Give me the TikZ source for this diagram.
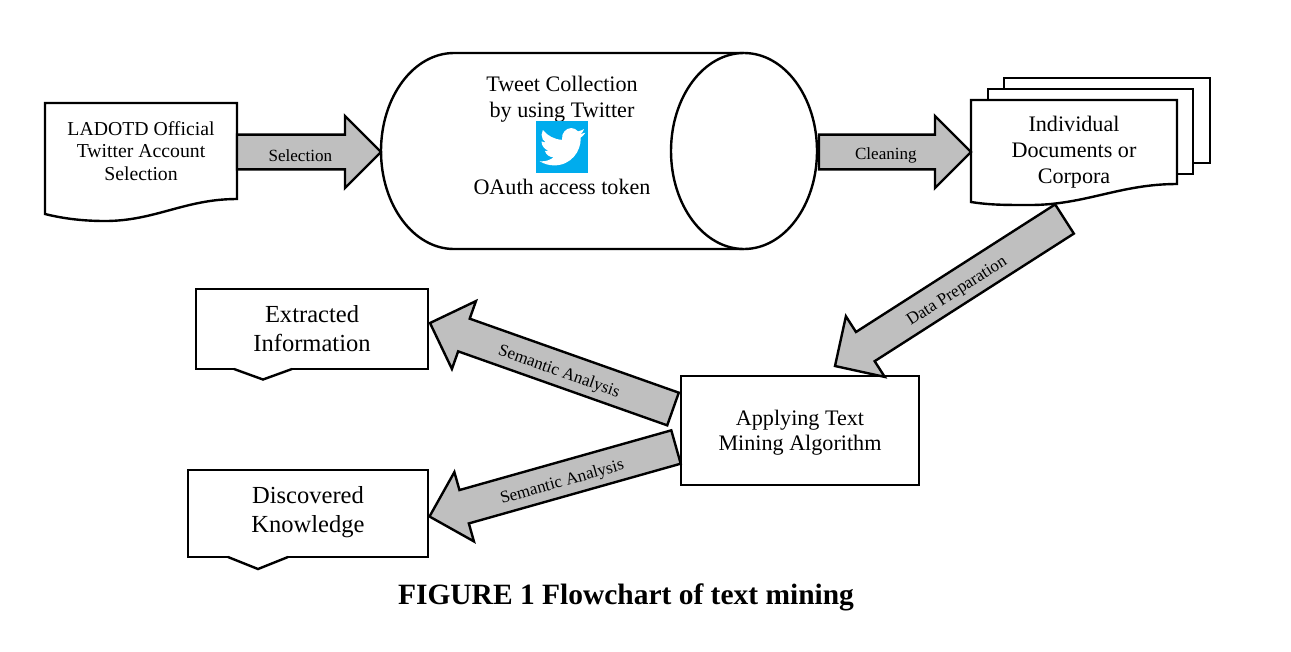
\documentclass[tikz,border=0pt]{standalone}
\usepackage{fontspec}
\setmainfont{Liberation Serif}
\usetikzlibrary{calc,backgrounds}
\definecolor{twitterblue}{HTML}{00ACED}

\tikzset{
    plainbox/.style={rectangle, draw=black, line width=1.8pt, fill=white, inner sep=0pt, outer sep=0pt, align=center},
    docbox/.style={rectangle, inner sep=0pt, outer sep=0pt, align=center, text depth=1.8pt},
    docline/.style={draw=black, line width=1.8pt, fill=white},
    blockline/.style={draw=black, line width=1.8pt, fill=black!25, line join=miter},
    linklabel/.style={font=\fontsize{12.8}{15}\selectfont, inner sep=0pt, yshift=-2.5pt},
    smalltext/.style={font=\fontsize{14.8}{16.9}\selectfont},
    midtext/.style={font=\fontsize{16.6}{19.2}\selectfont},
    bigtext/.style={font=\fontsize{18.4}{21.75}\selectfont}
}

% block arrow between two named points, label on top of it
\newcommand{\blockarrow}[4][.465]{
    \coordinate (headbase) at ($(#3)!27pt!(#2)$);
    \draw[blockline] ($(#2)!13pt!-90:(#3)$) -- ($(headbase)!13pt!-90:(#3)$) -- ($(headbase)!27pt!-90:(#3)$) -- (#3)
        -- ($(headbase)!27pt!90:(#3)$) -- ($(headbase)!13pt!90:(#3)$) -- ($(#2)!13pt!90:(#3)$) -- cycle;
    \path (#2) -- node[pos=#1, sloped, linklabel] {#4} (#3);
}

\begin{document}
\begin{tikzpicture}[x=0.75pt, y=-0.75pt]
    \useasboundingbox (0,0) rectangle (1291,651);

    \node (ladotd) [docbox, smalltext, minimum width=144pt, minimum height=72pt, text depth=0pt] at (141,151)
        {LADOTD Official\\Twitter Account\\Selection};

    \node (tweet) [docbox, minimum width=327pt, minimum height=147pt] at (599,151) {};
    \node (tweettext) [midtext, align=center, inner sep=0pt] at (562,99) {Tweet Collection\\by using Twitter};
    \node (twittericon) [rectangle, fill=twitterblue, inner sep=0pt, minimum size=39pt] at (562,147) {};
    \node (oauth) [midtext, inner sep=0pt] at (562,187) {OAuth access token};

    \node (individual) [docbox, midtext, minimum width=154.5pt, minimum height=76.5pt] at (1074,151)
        {Individual\\Documents or\\Corpora};

    \node (extracted) [plainbox, bigtext, minimum width=174pt, minimum height=60pt] at (312,329)
        {Extracted\\Information};
    \node (discovered) [plainbox, bigtext, minimum width=180pt, minimum height=65.25pt, text depth=6.5pt] at (308,513.5)
        {Discovered\\Knowledge};
    \node (applying) [plainbox, midtext, minimum width=178.5pt, minimum height=81.75pt, text depth=0pt] at (800,430.5)
        {Applying Text\\Mining Algorithm};

    \node (caption) [font=\fontsize{22.1}{26}\selectfont\bfseries, inner sep=0pt] at (626,597.5) {FIGURE 1 Flowchart of text mining};

    \begin{scope}[on background layer]
        % the drum: body first, then its front face
        \draw[docline] ($(tweet.north west)+(73,0)$) arc[start angle=90, end angle=270, x radius=54.75pt, y radius=73.5pt]
            -- ($(tweet.south east)+(-73,0)$) arc[start angle=-90, end angle=90, x radius=54.75pt, y radius=73.5pt] -- cycle;
        \draw[docline] ($(tweet.south east)+(-73,0)$) arc[start angle=270, end angle=90, x radius=54.75pt, y radius=73.5pt];
        % sheets behind the front document
        \node (sheetthree) [plainbox, minimum width=154.5pt, minimum height=63.75pt] at (1107,120.5) {};
        \node (sheettwo) [plainbox, minimum width=154pt, minimum height=63.75pt] at (1090.5,131.5) {};
        \draw[docline] (individual.north west) -- (individual.north east) -- (1177,184)
            .. controls (1120,184) and (1085,205) .. (1030,205) .. controls (1005,205) and (990,205) .. (individual.south west) -- cycle;
        \draw[docline] (ladotd.north west) -- (ladotd.north east) -- (ladotd.south east)
            .. controls (185,199) and (155,221) .. (105,221) .. controls (85,221) and (65,219) .. (45,214) -- cycle;
    \end{scope}

    % notches under the two result boxes, open at the top
    \fill[white] (235,366.5) rectangle (291,371);
    \draw[docline] (234,369) -- (263,379.5) -- (292,369);
    \fill[white] (229,554.5) rectangle (287,559);
    \draw[docline] (228,557) -- (258,569) -- (288,557);

    % the bird, in its own little grid
    \begin{scope}[shift={([xshift=3pt,yshift=-2.5pt]twittericon.north west)}, x=1.425pt, y=-1.425pt]
        \fill[white] (23.95,4.57) .. controls (22.6,5.1) .. (21.13,5.35) .. controls (22.4,4.6) .. (23.29,2.62)
            .. controls (22.3,3.2) .. (20.17,3.81) .. controls (19.2,2.75) and (17.9,2.1) .. (16.6,2.1)
            .. controls (13.9,2.1) and (11.2,4.7) .. (11.78,8.29) .. controls (7.69,8.1) and (4.07,6.13) .. (1.64,3.16)
            .. controls (1.2,3.9) .. (0.97,5.64) .. controls (0.97,7.35) and (1.84,8.85) .. (3.16,9.73)
            .. controls (2.35,9.7) .. (0.93,9.12) -- (0.93,9.18) .. controls (0.93,11.5) and (2.6,13.5) .. (4.88,14)
            .. controls (4.15,14.2) .. (2.67,14.09) .. controls (3.3,16) and (5.1,17.45) .. (7.27,17.51)
            .. controls (5.6,18.8) and (3.5,19.61) .. (1.17,19.61) -- (0,19.54)
            .. controls (2.2,20.95) and (4.8,21.75) .. (7.56,21.75) .. controls (16.61,21.75) and (21.56,14.26) .. (21.56,7.77)
            -- (21.54,7.14) .. controls (22.5,6.45) .. (24,4.59) -- cycle;
    \end{scope}

    \coordinate (selectstart) at ($(ladotd.east)+(0,1)$);
    \coordinate (selecttip) at ($(tweet.west)+(0,1)$);
    \coordinate (cleanstart) at ($(tweet.east)+(2,1)$);
    \coordinate (cleantip) at ($(individual.west)+(0,1)$);
    \coordinate (prepstart) at ($(individual.south)+(-9.5,17)$);
    \coordinate (preptip) at ($(applying.north west)+(154,-10)$);
    \coordinate (upperstart) at ($(applying.west)+(-8,-21.5)$);
    \coordinate (uppertip) at ($(extracted.east)+(2,-6)$);
    \coordinate (lowerstart) at ($(applying.west)+(-5,16.5)$);
    \coordinate (lowertip) at ($(discovered.east)+(1.5,3)$);

    \blockarrow[.44]{selectstart}{selecttip}{Selection}
    \blockarrow[.44]{cleanstart}{cleantip}{Cleaning}
    \blockarrow[.475]{prepstart}{preptip}{Data Preparation}
    \blockarrow{upperstart}{uppertip}{Semantic Analysis}
    \blockarrow{lowerstart}{lowertip}{Semantic Analysis}
\end{tikzpicture}
\end{document}
